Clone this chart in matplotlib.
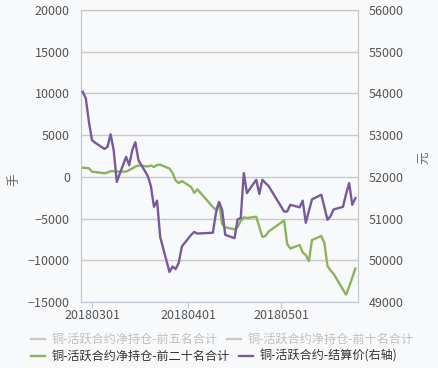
import matplotlib
matplotlib.use('Agg')
import matplotlib.pyplot as plt
import matplotlib.dates as mdates
from matplotlib.lines import Line2D
import pandas as pd

plt.rcParams['font.family'] = ['Noto Sans CJK SC', 'DejaVu Sans']

# 交易日（剔除清明、劳动节假期）
holidays = ['2018-04-05', '2018-04-06', '2018-04-30', '2018-05-01']
dates = pd.bdate_range('2018-02-26', '2018-05-25')
dates = dates[~dates.isin(pd.to_datetime(holidays))]

# 铜-活跃合约净持仓-前二十名合计（手）
net_top20 = [1100, 1060, 1030, 620, 580, 430, 520, 680, 670, 640,
             620, 820, 1000, 1240, 1360, 1240, 1360, 1180, 1420, 1450,
             1000, 460, -440, -740, -500, -1220, -1930, -1490, -3610, -3970,
             -3130, -5650, -6050, -6290, -6010, -5290, -4850, -4930, -4780, -6010,
             -7210, -7090, -6550, -5230, -8050, -8590, -8170, -9070, -9370, -10090,
             -7570, -7090, -7930, -10680, -11220, -11640, -13510, -14120, -13150, -12080,
             -11000]

# 铜-活跃合约-结算价（元，右轴）
settle = [54040, 53880, 53320, 52880, 52820, 52670, 52720, 53020, 52640, 51880,
          52480, 52280, 52640, 52830, 52400, 52020, 51780, 51280, 51430, 50560,
          49720, 49850, 49790, 49940, 50330, 50610, 50680, 50640, 50660, 51130,
          51400, 51210, 50610, 50530, 50980, 51010, 52090, 51610, 51930, 51590,
          51930, 51850, 51780, 51170, 51170, 51330, 51270, 51430, 50900, 51180,
          51460, 51570, 51280, 50970, 51060, 51220, 51280, 51590, 51850, 51330,
          51490]

labels = ['铜-活跃合约净持仓-前五名合计', '铜-活跃合约净持仓-前十名合计',
          '铜-活跃合约净持仓-前二十名合计', '铜-活跃合约-结算价(右轴)']
tick_dates = ['2018-03-01', '2018-04-01', '2018-05-01']

green = '#8db35a'
purple = '#775a9b'
gray = '#c8c8c8'
bg = '#f8f9fb'
W, H = 438, 368

fig = plt.figure(figsize=(4.38, 3.68), dpi=100, facecolor=bg)
ax = fig.add_axes([81 / W, 66 / H, 277 / W, 292 / H])
ax.set_facecolor(bg)
ax2 = ax.twinx()

ax.plot(dates, net_top20, color=green, lw=1.7, zorder=3)
ax2.plot(dates, settle, color=purple, lw=1.7, zorder=3)

ax.set_ylim(-15000, 20000)
ax.set_yticks(range(-15000, 20001, 5000))
ax2.set_ylim(49000, 56000)
ax2.set_yticks(range(49000, 56001, 1000))

x0 = mdates.date2num(pd.Timestamp('2018-02-25')) + 0.45
ax.set_xlim(x0, x0 + 89.4)
ax.set_xticks(pd.to_datetime(tick_dates))
ax.xaxis.set_major_formatter(mdates.DateFormatter('%Y%m%d'))

ax.grid(axis='y', color='#c9c9c9', lw=1)
ax.set_axisbelow(True)
for a in (ax, ax2):
    for s in a.spines.values():
        s.set_color('#c6c6c6')
    a.spines['bottom'].set_color('#c3cbd9')
ax.tick_params(axis='y', length=0, labelsize=9, labelcolor='#555555', pad=8)
ax2.tick_params(axis='y', length=0, labelsize=9, labelcolor='#555555', pad=8)
ax.tick_params(axis='x', length=4, color='#c3cbd9', labelsize=9,
               labelcolor='#555555', pad=1)

fig.text(14 / W, 1 - 180 / H, '手', rotation=90, ha='center', va='center',
         fontsize=9, color='#666666')
fig.text(425 / W, 1 - 158 / H, '元', rotation=90, ha='center', va='center',
         fontsize=9, color='#666666')

# 图例（按行排布，每行独立）
legend_items = [(labels[0], gray, '#c0c0c0', 31, 339),
                (labels[1], gray, '#c0c0c0', 227, 339),
                (labels[2], green, '#333333', 31, 356),
                (labels[3], purple, '#333333', 239, 356)]
for text, lc, tc, lx, ly in legend_items:
    fig.add_artist(Line2D([lx / W, (lx + 14) / W], [1 - ly / H, 1 - ly / H],
                          color=lc, lw=1.7, transform=fig.transFigure))
    fig.text((lx + 21) / W, 1 - ly / H, text, ha='left', va='center',
             fontsize=8.7, color=tc)

fig.savefig('out.png', dpi=100, facecolor=bg)
